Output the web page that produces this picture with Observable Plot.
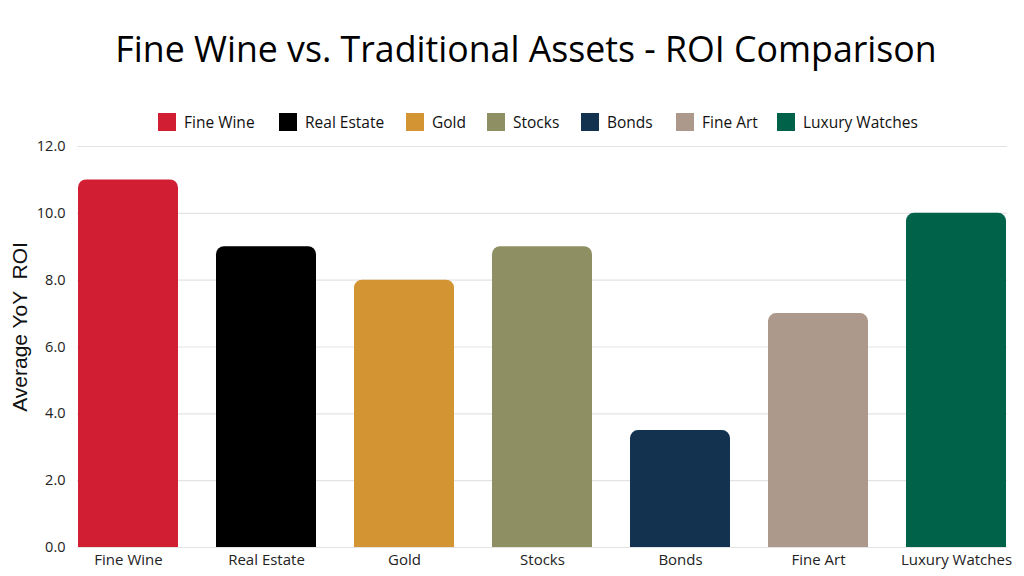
<!DOCTYPE html>
<html>
<head>
<meta charset="utf-8">
<script src="https://cdn.jsdelivr.net/npm/d3@7"></script>
<script src="https://cdn.jsdelivr.net/npm/@observablehq/plot@0.6"></script>
<style>
  html, body { margin: 0; padding: 0; background: #fff; }
  #root { position: relative; width: 1024px; height: 576px; overflow: hidden; font-family: "Open Sans", sans-serif; }
  #title { position: absolute; left: 0; width: 1052px; top: 25px; text-align: center; font-size: 35.7px; color: #000; line-height: 46px; }
  #legend { position: absolute; top: 113px; left: 158px; height: 18px; font-size: 15.5px; color: #111; }
  .item { display: flex; align-items: center; position: absolute; top: 0; height: 18px; white-space: nowrap; }
  .sw { width: 18px; height: 18px; margin-right: 8px; flex: none; }
  #chart { position: absolute; left: 0; top: 136px; }
  #ylabel { position: absolute; left: 20px; top: 327px; transform: translate(-50%, -50%) rotate(-90deg); white-space: pre;
            font-family: "Liberation Sans", Arial, sans-serif; font-size: 21px; color: #111; line-height: 24px; z-index: 2; }
</style>
</head>
<body>
<div id="root">
  <div id="title">Fine Wine vs. Traditional Assets - ROI Comparison</div>
  <div id="legend"></div>
  <div id="chart"></div>
  <div id="ylabel"></div>
</div>
<script>
const categories = ["Fine Wine", "Real Estate", "Gold", "Stocks", "Bonds", "Fine Art", "Luxury Watches"];
const roi = [11.0, 9.0, 8.0, 9.0, 3.5, 7.0, 10.0];
const colors = ["#d21e33", "#000000", "#d39534", "#8e9063", "#12324f", "#ad998c", "#006249"];
const yTicks = [0, 2, 4, 6, 8, 10, 12];
const yLabel = "Average YoY  ROI";
const legendOffsets = [0, 121, 248, 329, 423, 518, 619];

const data = categories.map((c, i) => ({category: c, value: roi[i]}));

document.getElementById("ylabel").textContent = yLabel;

const legend = document.getElementById("legend");
categories.forEach((c, i) => {
  const item = document.createElement("div");
  item.className = "item";
  item.style.left = legendOffsets[i] + "px";
  item.innerHTML = `<span class="sw" style="background:${colors[i]}"></span><span>${c}</span>`;
  legend.appendChild(item);
});

const chart = Plot.plot({
  width: 1024,
  height: 440,
  marginTop: 10,
  marginBottom: 29,
  marginLeft: 77,
  marginRight: 17,
  style: {fontFamily: "Open Sans, sans-serif", fontSize: "14px", color: "#222", background: "#fff"},
  x: {domain: categories, padding: 0.277, paddingOuter: 0, label: null},
  y: {domain: [0, 12], label: null},
  color: {domain: categories, range: colors},
  marks: [
    Plot.gridY(yTicks, {stroke: "#e3e3e3", strokeOpacity: 1, strokeWidth: 1.2}),
    Plot.barY(data, {x: "category", y: "value", fill: "category", rx: 8}),
    Plot.barY(data, {x: "category", y1: 0, y2: d => d.value - 0.5, fill: "category"}),
    Plot.axisY(yTicks, {tickFormat: d3.format(".1f"), tickSize: 0, tickPadding: 12, fontSize: 14.5, label: null}),
    Plot.axisX({tickSize: 0, tickPadding: 7, fontSize: 15, label: null})
  ]
});
document.getElementById("chart").appendChild(chart);
</script>
</body>
</html>
